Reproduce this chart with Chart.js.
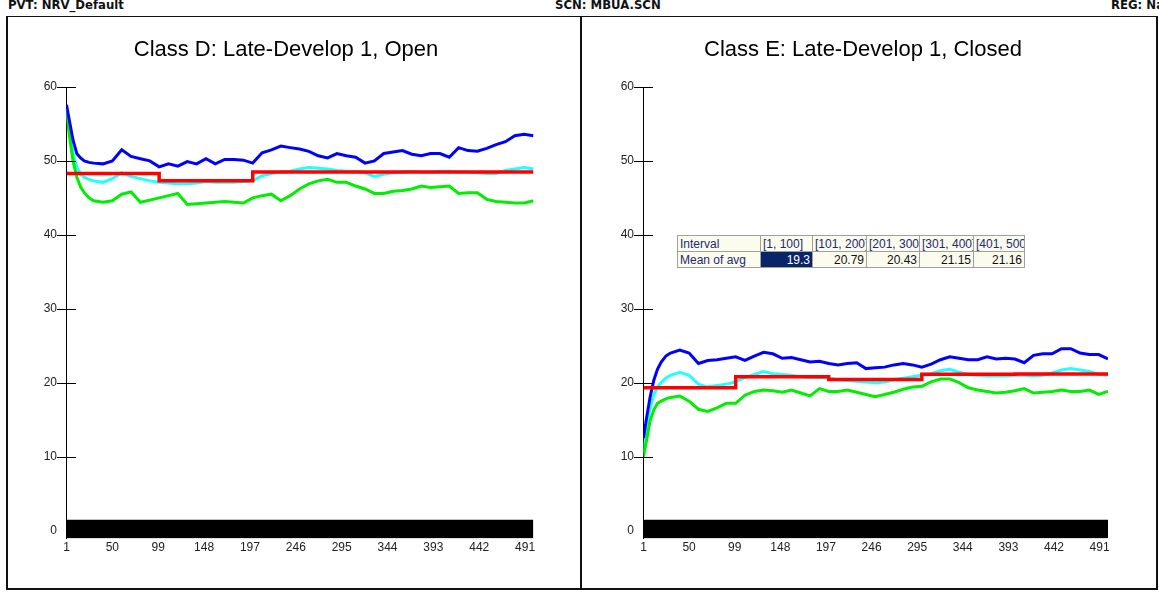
<!DOCTYPE html>
<html>
<head>
<meta charset="utf-8">
<title>Late-Develop 1</title>
<script src="https://cdn.jsdelivr.net/npm/chart.js@4.4.1/dist/chart.umd.min.js"></script>
<style>
    body { margin: 0; background: #fff; width: 1159px; height: 592px; overflow: hidden; position: relative; font-family: Arial, "Liberation Sans", sans-serif; }
    .hdr { position: absolute; top: -3px; font-family: "Liberation Sans Narrow", "DejaVu Sans", Arial; font-stretch: condensed; font-weight: bold; font-size: 13px; color: #111; white-space: nowrap; }
    .panel { position: absolute; top: 16px; height: 574px; box-sizing: border-box; border: 2px solid #111; border-top-width: 1px; }
    .title { position: absolute; top: 36px; width: 420px; text-align: center; font: 22px Arial, "Liberation Sans"; color: #000; white-space: nowrap; }
    canvas { position: absolute; top: 18px; }
    #stats { position: absolute; left: 677px; top: 235px; width: 347px; border-collapse: collapse; background: #fbfbee; font: 12px Arial, "Liberation Sans"; table-layout: fixed; border: 1px solid #777; }
    #stats td { border: 1px solid #a0a0a0; height: 15px; padding: 0 2px; white-space: nowrap; overflow: hidden; color: #1c2a6e; }
    #stats td.num { text-align: right; color: #111; }
    #stats td.sel { background: #0a246a; color: #fff; }
</style>
</head>
<body>
<div class="hdr" style="left:8px">PVT: NRV_Default</div>
<div class="hdr" style="left:555px">SCN: MBUA.SCN</div>
<div class="hdr" style="left:1111px">REG: National</div>

<div class="panel" style="left:6px; width:576px"></div>
<div class="panel" style="left:580px; width:578px"></div>

<canvas id="chartD" width="558" height="570" style="left:8px"></canvas>
<canvas id="chartE" width="556" height="570" style="left:585px"></canvas>

<div class="title" style="left:76px">Class D: Late-Develop 1, Open</div>
<div class="title" style="left:653px">Class E: Late-Develop 1, Closed</div>

<table id="stats"></table>

<script>
// x positions of the sampled points (same for every series)
var xs = [1, 4, 8, 12, 16, 20, 25, 30, 40, 50, 60, 70, 80, 90, 100, 110, 120, 130, 140, 150,
    160, 170, 180, 190, 200, 210, 220, 230, 240, 250, 260, 270, 280, 290, 300, 310, 320, 330, 340, 350,
    360, 370, 380, 390, 400, 410, 420, 430, 440, 450, 460, 470, 480, 490, 500];

// tick labels
var xTicks = [1, 50, 99, 148, 197, 246, 295, 344, 393, 442, 491];
var yTicks = [0, 10, 20, 30, 40, 50, 60];

// Class D (Open)
var blueD = [57.6, 55.5, 52.8, 51.0, 50.4, 50.0, 49.8, 49.7, 49.6, 50.0,
    51.5, 50.6, 50.3, 50.0, 49.2, 49.6, 49.3, 49.9, 49.6, 50.3,
    49.6, 50.2, 50.2, 50.1, 49.7, 51.1, 51.5, 52.0, 51.8, 51.6,
    51.3, 50.7, 50.4, 51.0, 50.7, 50.5, 49.7, 50.0, 51.0, 51.2,
    51.4, 50.9, 50.7, 51.0, 51.0, 50.5, 51.8, 51.4, 51.3, 51.7,
    52.2, 52.6, 53.4, 53.6, 53.4];
var cyanD = [57.0, 54.0, 51.0, 49.2, 48.2, 47.8, 47.5, 47.3, 47.1, 47.6,
    48.4, 47.9, 47.6, 47.3, 47.1, 47.0, 46.9, 46.9, 47.0, 47.2,
    47.1, 47.1, 47.1, 47.2, 47.3, 48.0, 48.3, 48.5, 48.6, 48.9,
    49.1, 49.0, 48.9, 48.7, 48.6, 48.6, 48.4, 47.9, 48.2, 48.4,
    48.5, 48.6, 48.5, 48.5, 48.6, 48.6, 48.5, 48.5, 48.4, 48.3,
    48.3, 48.7, 48.9, 49.1, 48.9];
var greenD = [57.0, 53.5, 50.0, 47.8, 46.5, 45.7, 45.0, 44.6, 44.4, 44.6,
    45.5, 45.8, 44.4, 44.7, 45.0, 45.3, 45.6, 44.1, 44.2, 44.3,
    44.4, 44.5, 44.4, 44.3, 45.0, 45.3, 45.5, 44.6, 45.3, 46.2,
    46.9, 47.3, 47.5, 47.1, 47.1, 46.6, 46.2, 45.6, 45.6, 45.9,
    46.0, 46.2, 46.6, 46.4, 46.5, 46.6, 45.6, 45.7, 45.7, 44.8,
    44.5, 44.4, 44.3, 44.3, 44.6];
var meansD = [48.3, 47.3, 48.5, 48.5, 48.5];

// Class E (Closed)
var blueE = [12.5, 15.0, 18.0, 20.3, 21.8, 22.8, 23.6, 24.0, 24.4, 24.0,
    22.6, 23.0, 23.1, 23.3, 23.5, 23.0, 23.6, 24.1, 23.9, 23.3,
    23.4, 23.1, 22.8, 22.9, 22.6, 22.4, 22.6, 22.7, 21.9, 22.0,
    22.1, 22.4, 22.6, 22.4, 22.1, 22.5, 23.1, 23.5, 23.3, 23.1,
    23.1, 23.5, 23.2, 23.3, 23.2, 22.7, 23.7, 23.9, 23.9, 24.6,
    24.6, 24.0, 23.8, 23.8, 23.2];
var cyanE = [10.5, 13.5, 16.5, 18.3, 19.4, 20.0, 20.6, 21.0, 21.4, 21.0,
    19.8, 19.4, 19.6, 19.8, 20.1, 20.7, 21.1, 21.5, 21.2, 21.1,
    21.0, 20.8, 20.7, 20.7, 20.6, 20.4, 20.3, 20.2, 20.1, 20.0,
    20.1, 20.4, 20.6, 20.8, 21.0, 21.2, 21.6, 21.8, 21.4, 21.1,
    21.0, 20.9, 20.9, 20.9, 21.0, 21.0, 20.9, 21.0, 21.3, 21.7,
    21.9, 21.7, 21.5, 21.1, 21.0];
var greenE = [10.0, 12.0, 14.8, 16.3, 17.2, 17.5, 17.8, 18.0, 18.2, 17.5,
    16.4, 16.1, 16.6, 17.2, 17.2, 18.3, 18.8, 19.0, 18.9, 18.7,
    19.0, 18.6, 18.2, 19.2, 18.8, 18.8, 19.0, 18.7, 18.4, 18.1,
    18.4, 18.7, 19.1, 19.4, 19.5, 20.1, 20.5, 20.5, 20.0, 19.3,
    19.0, 18.8, 18.6, 18.7, 18.9, 19.2, 18.6, 18.7, 18.8, 19.0,
    18.8, 18.8, 19.0, 18.4, 18.8];
var meansE = [19.3, 20.79, 20.43, 21.15, 21.16];

// interval table (shown in the Closed chart)
var intervalLabels = ['[1, 100]', '[101, 200]', '[201, 300]', '[301, 400]', '[401, 500]'];
var stepX = [1, 100, 200, 300, 400, 500]; // where the mean line changes level
var bandTop = 1.45;    // black strip around zero
var bandBottom = -1.1;

function toPoints(values) {
    return values.map(function (v, i) { return { x: xs[i], y: v }; });
}

// mean per interval -> stepped line, last level carried to the end
function stepPoints(means) {
    return stepX.map(function (x, i) { return { x: x, y: means[Math.min(i, means.length - 1)] }; });
}

// small cross ticks on the y axis (out and in)
var tickMarks = {
    id: 'tickMarks',
    afterDraw: function (chart) {
        var ctx = chart.ctx, y = chart.scales.y;
        ctx.save();
        ctx.strokeStyle = '#000';
        ctx.lineWidth = 1;
        y.ticks.forEach(function (t) {
            if (t.value === 0) return; // hidden by the strip
            var py = Math.round(y.getPixelForValue(t.value)) + 0.5;
            ctx.beginPath();
            ctx.moveTo(y.right - 9.5, py);
            ctx.lineTo(y.right + 9.5, py);
            ctx.stroke();
        });
        ctx.restore();
    }
};

function makeChart(id, blue, cyan, green, means, rightPad) {
    var tickFont = { family: 'Arial, "Liberation Sans"', size: 12 };
    return new Chart(document.getElementById(id), {
        type: 'line',
        data: {
            datasets: [
                // 'before': keeps the level of a point until the next one
                { data: stepPoints(means), borderColor: '#ff0000', borderWidth: 3.5, stepped: 'before' },
                { data: toPoints(blue), borderColor: '#0000ff', borderWidth: 3 },
                { data: toPoints(green), borderColor: '#00ee00', borderWidth: 3 },
                { data: toPoints(cyan), borderColor: '#22ffff', borderWidth: 3 },
                { data: [{ x: 1, y: bandTop }, { x: 500, y: bandTop }], borderColor: '#000', borderWidth: 0, backgroundColor: '#000', fill: 'start' }
            ]
        },
        options: {
            responsive: false,
            animation: false,
            elements: { point: { radius: 0 }, line: { tension: 0 } },
            layout: { padding: { left: 0, right: rightPad, top: 69, bottom: 31 } },
            plugins: {
                legend: { display: false },
                tooltip: { enabled: false }
            },
            scales: {
                x: {
                    type: 'linear', min: 1, max: 500,
                    grid: { display: true, drawOnChartArea: false, drawTicks: false },
                    border: { display: false },
                    afterBuildTicks: function (s) { s.ticks = xTicks.map(function (v) { return { value: v }; }); },
                    ticks: { autoSkip: false, maxRotation: 0, padding: 2, color: '#222', font: tickFont }
                },
                y: {
                    min: bandBottom, max: 60,
                    grid: { display: true, drawOnChartArea: false, drawTicks: false },
                    border: { display: true, color: '#000', width: 1 },
                    afterBuildTicks: function (s) { s.ticks = yTicks.map(function (v) { return { value: v }; }); },
                    afterFit: function (s) { s.width = 58.5; },
                    ticks: { padding: 9.5, color: '#222', font: tickFont }
                }
            }
        },
        plugins: [tickMarks]
    });
}

makeChart('chartD', blueD, cyanD, greenD, meansD, 32.5);
makeChart('chartE', blueE, cyanE, greenE, meansE, 33);

// build the interval table from the same means
var table = document.getElementById('stats');
var widths = [83, 52, 54, 53, 54, 51];
var cols = '<colgroup>' + widths.map(function (w) { return '<col style="width:' + w + 'px">'; }).join('') + '</colgroup>';
var row1 = '<tr><td>Interval</td>';
var row2 = '<tr><td>Mean of avg</td>';
intervalLabels.forEach(function (lab, i) {
    row1 += '<td>' + lab + '</td>';
    row2 += '<td class="num' + (i === 0 ? ' sel' : '') + '">' + meansE[i] + '</td>';
});
table.innerHTML = cols + row1 + '</tr>' + row2 + '</tr>';
</script>
</body>
</html>
